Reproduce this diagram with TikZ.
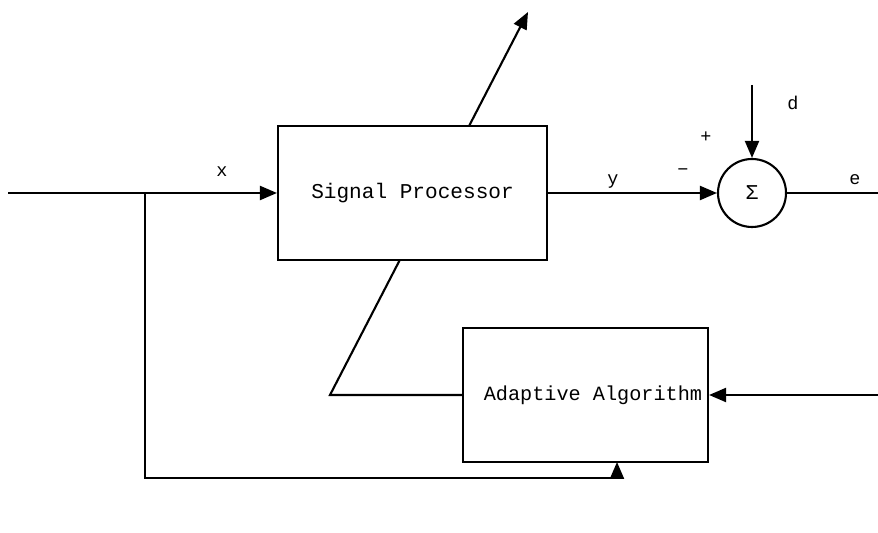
\documentclass[tikz,border=0pt]{standalone}
\usepackage{fontspec}
\setmonofont{Liberation Mono}
\usetikzlibrary{arrows.meta,positioning,backgrounds}
\tikzset{
  pbox/.style={draw=black,fill=white,line width=1.2pt,minimum width=5.38cm,minimum height=2.68cm,font=\ttfamily\fontsize{12}{14}\selectfont},
  sumnode/.style={draw=black,fill=white,circle,line width=1.2pt,minimum size=1.36cm,inner sep=0pt,font=\ttfamily\fontsize{12}{14}\selectfont},
  sarr/.style={-{Triangle[length=3.4mm,width=2.8mm]},line width=1.2pt,draw=black},
  sline/.style={line width=1.2pt,draw=black},
  slabel/.style={font=\ttfamily\fontsize{10.5}{12}\selectfont}
}
\begin{document}
\begin{tikzpicture}
  \useasboundingbox (0,0) rectangle (17.56,10.66);
  \node[pbox] (sp) at (8.25,6.80) {Signal Processor};
  \node[pbox,minimum width=4.9cm,font=\ttfamily\fontsize{11.5}{13}\selectfont] (aa) at (11.71,2.76) {\hspace{3mm}Adaptive Algorithm};
  \node[sumnode] (sum) at (15.04,6.80) {Σ};
  \coordinate (xin) at (0.16,6.80);
  \coordinate (tap) at (2.90,6.80);
  \coordinate (low) at (2.90,1.10);
  \coordinate (aain) at (12.34,1.42);
  \coordinate (dtop) at (15.04,8.96);
  \coordinate (eout) at (17.56,6.80);
  \coordinate (ein) at (17.56,2.76);
  \coordinate (bend) at (6.60,2.76);
  \coordinate (tip) at (10.56,10.42);
  % adjustment arrow, behind the processor
  \begin{scope}[on background layer]
    \draw[sarr] (aa.west) -- (bend) -- (tip);
  \end{scope}
  \draw[sarr] (xin) -- (sp.west);
  \draw[sarr] (tap) -- (low) -| (aain);
  \draw[sarr] (sp.east) -- (sum.west);
  \draw[sarr] (dtop) -- (sum.north);
  \draw[sline] (sum.east) -- (eout);
  \draw[sarr] (ein) -- (aa.east);
  \node[slabel] (lx) at (4.44,7.22) {x};
  \node[slabel] (ly) at (12.26,7.02) {y};
  \node[slabel] (lminus) at (13.66,7.22) {−};
  \node[slabel] (lplus) at (14.12,7.92) {+};
  \node[slabel] (ld) at (15.86,8.60) {d};
  \node[slabel] (le) at (17.10,7.06) {e};
\end{tikzpicture}
\end{document}
